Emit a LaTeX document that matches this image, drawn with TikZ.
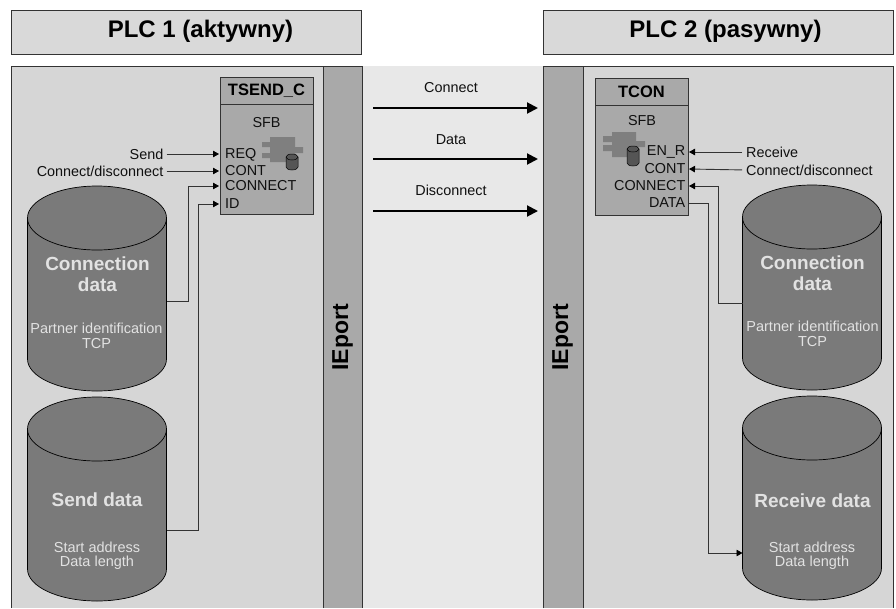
\documentclass[tikz,border=0pt]{standalone}
\usepackage{fontspec}
\setmainfont{Liberation Sans}
\usetikzlibrary{arrows.meta}
\definecolor{panelc}{HTML}{D6D6D6}
\definecolor{headc}{HTML}{D9D9D9}
\definecolor{stripc}{HTML}{A9A9A9}
\definecolor{midc}{HTML}{E8E8E8}
\definecolor{cylc}{HTML}{7A7A7A}
\definecolor{iconc}{HTML}{7F7F7F}
\definecolor{darkc}{HTML}{555555}
\definecolor{txtc}{HTML}{101010}
\definecolor{lightc}{HTML}{E2E2E2}
\definecolor{linec}{HTML}{333333}
\tikzset{
  x=1pt,y=-1pt,
  headbox/.style={draw=linec,fill=headc,line width=.7pt,minimum width=350pt,minimum height=44pt,inner sep=0pt},
  headtext/.style={inner sep=0pt,font=\fontsize{24}{26}\selectfont\bfseries,text=black},
  blockbox/.style={draw=linec,fill=stripc,line width=.7pt},
  label/.style={inner sep=0pt,font=\fontsize{14.4}{16}\selectfont,text=txtc},
  port/.style={label},
  wire/.style={draw=linec,line width=.9pt},
  wirearrow/.style={wire,-{Triangle[length=6pt,width=6.5pt,color=black]}},
  bigarrow/.style={draw=black,line width=2pt,-{Triangle[length=11pt,width=11pt]}},
  cyltitle/.style={inner sep=0pt,font=\fontsize{19}{21}\selectfont\bfseries,text=lightc},
  cyltext/.style={inner sep=0pt,font=\fontsize{14.5}{16}\selectfont,text=lightc},
  ieport/.style={inner sep=0pt,rotate=90,font=\fontsize{23}{25}\selectfont\bfseries,text=black},
  blocktitle/.style={inner sep=0pt,font=\fontsize{16.5}{18}\selectfont\bfseries,text=black},
}
% #1 centre x, #2 top y, #3 bottom y
\newcommand{\datacyl}[3]{%
  \draw[fill=cylc,draw=black,line width=.7pt]
    (#1-69.5,#2+32) arc[start angle=180,end angle=0,x radius=69.5,y radius=-32]
    -- (#1+69.5,#3-32) arc[start angle=0,end angle=-180,x radius=69.5,y radius=-32] -- cycle;
  \draw[draw=black,line width=.7pt]
    (#1-69.5,#2+32) arc[start angle=180,end angle=360,x radius=69.5,y radius=-32];
}
% small database drum: x1, x2, y1, y2
\newcommand{\smalldrum}[4]{%
  \draw[fill=darkc,draw=black,line width=.5pt]
    (#1,#3+3) arc[start angle=180,end angle=0,x radius=#2/2-#1/2,y radius=-3]
    -- (#2,#4-3) arc[start angle=0,end angle=-180,x radius=#2/2-#1/2,y radius=-3] -- cycle;
  \draw[draw=black,line width=.5pt] (#1,#3+3) arc[start angle=180,end angle=360,x radius=#2/2-#1/2,y radius=-3];
}
\begin{document}
\begin{tikzpicture}
\useasboundingbox (0,0) rectangle (896,608);
\fill[white] (0,0) rectangle (896,608);
% middle band
\fill[midc] (362,66) rectangle (543,608);
% left panel
\fill[panelc] (11,66) rectangle (323,608);
\fill[stripc] (323,66) rectangle (362,608);
\draw[linec,line width=.8pt] (11,608) -- (11,66) -- (362,66) -- (362,608);
\draw[linec,line width=.8pt] (323,66) -- (323,608);
% right panel
\fill[panelc] (583,66) rectangle (893,608);
\fill[stripc] (543,66) rectangle (583,608);
\draw[linec,line width=.8pt] (543,608) -- (543,66) -- (893,66) -- (893,608);
\draw[linec,line width=.8pt] (583,66) -- (583,608);
% headers
\node[headbox] (h1) at (186,32) {};
\node[headbox] (h2) at (718,32) {};
\node[headtext] (h1t) at (200.5,31) {PLC 1 (aktywny)};
\node[headtext] (h2t) at (725.5,31) {PLC 2 (pasywny)};
\node[ieport] (ie1) at (342.5,337.5) {IEport};
\node[ieport] (ie2) at (562.5,337.5) {IEport};
% cylinders
\datacyl{97}{186}{391}
\datacyl{97}{397}{601}
\datacyl{812}{185}{390}
\datacyl{812}{396}{600}
\node[cyltitle,align=center] (c1t) at (97.5,264) {Connection};
\node[cyltitle] (c1d) at (97.5,285) {data};
\node[cyltext] (c1a) at (96.5,328) {Partner identification};
\node[cyltext] (c1b) at (96.5,344) {TCP};
\node[cyltitle] (c2t) at (97,500) {Send data};
\node[cyltext] (c2a) at (97,547) {Start address};
\node[cyltext] (c2b) at (97,563) {Data length};
\node[cyltitle] (c3t) at (812.5,263) {Connection};
\node[cyltitle] (c3d) at (812.5,284) {data};
\node[cyltext] (c3a) at (812.5,326) {Partner identification};
\node[cyltext] (c3b) at (812.5,342) {TCP};
\node[cyltitle] (c4t) at (812.5,501) {Receive data};
\node[cyltext] (c4a) at (812,547) {Start address};
\node[cyltext] (c4b) at (812,563) {Data length};
% left block
\draw[blockbox] (220,77) rectangle (313,214);
\draw[blockbox] (220,77) rectangle (313,104);
\node[blocktitle] (b1) at (266.5,90.5) {TSEND\_C};
\node[label] (sfb1) at (266.5,123) {SFB};
\fill[iconc] (270,137) rectangle (295,162) (262,142) rectangle (270,147) (262,153) rectangle (270,158) (295,147) rectangle (303,153);
\smalldrum{286}{298}{154}{170}
\node[port,anchor=west] (req) at (225,155) {REQ};
\node[port,anchor=west] (cont1) at (225,171) {CONT};
\node[port,anchor=west] (conn1) at (225,186) {CONNECT};
\node[port,anchor=west] (id) at (225,204) {ID};
% right block
\draw[blockbox] (595,78) rectangle (688,215);
\draw[blockbox] (595,78) rectangle (688,105);
\node[blocktitle] (b2) at (641.5,91.5) {TCON};
\node[label] (sfb2) at (642,121) {SFB};
\fill[iconc] (612,132) rectangle (636,157) (603,136) rectangle (612,142) (603,145) rectangle (612,151) (636,141) rectangle (645,147);
\smalldrum{627}{639}{146}{166}
\node[port,anchor=east] (enr) at (685.5,152) {EN\_R};
\node[port,anchor=east] (cont2) at (685.5,169) {CONT};
\node[port,anchor=east] (conn2) at (685.5,186) {CONNECT};
\node[port,anchor=east] (data) at (685.5,203) {DATA};
% outer labels
\node[label,anchor=east] (send) at (163.5,154) {Send};
\node[label,anchor=east] (cd1) at (163.5,171) {Connect/disconnect};
\node[label,anchor=west] (recv) at (746,152) {Receive};
\node[label,anchor=west] (cd2) at (746,170) {Connect/disconnect};
% connector ends
\coordinate (reqin) at (219,154);
\coordinate (cont1in) at (219,171);
\coordinate (conn1in) at (219,186);
\coordinate (idin) at (219,204);
\coordinate (c1out) at (166.5,301);
\coordinate (c2out) at (166.5,530);
\coordinate (enrin) at (689,152);
\coordinate (cont2in) at (689,169);
\coordinate (conn2in) at (689,186);
\coordinate (dataout) at (688,203);
\coordinate (c3out) at (742.5,303);
\coordinate (c4in) at (742.5,553);
\draw[wirearrow,shorten <=3pt] (send.east) -- (reqin);
\draw[wirearrow,shorten <=3pt] (cd1.east) -- (cont1in);
\draw[wirearrow] (c1out) -- (188,301) -- (188,186) -- (conn1in);
\draw[wirearrow] (c2out) -- (198,530) -- (198,204) -- (idin);
\draw[wirearrow,shorten <=4pt] (recv.west) -- (enrin);
\draw[wirearrow,shorten <=4pt] (cd2.west) -- (cont2in);
\draw[wirearrow] (c3out) -- (718,303) -- (718,186) -- (conn2in);
\draw[wirearrow] (dataout) -- (708,203) -- (708,553) -- (c4in);
% transfer arrows
\coordinate (a1s) at (373,108); \coordinate (a1e) at (538,108);
\coordinate (a2s) at (373,159); \coordinate (a2e) at (538,159);
\coordinate (a3s) at (373,211); \coordinate (a3e) at (538,211);
\draw[bigarrow] (a1s) -- (a1e);
\draw[bigarrow] (a2s) -- (a2e);
\draw[bigarrow] (a3s) -- (a3e);
\node[label] (l1) at (451,87.5) {Connect};
\node[label] (l2) at (451,139.5) {Data};
\node[label] (l3) at (451,190.5) {Disconnect};
\end{tikzpicture}
\end{document}
